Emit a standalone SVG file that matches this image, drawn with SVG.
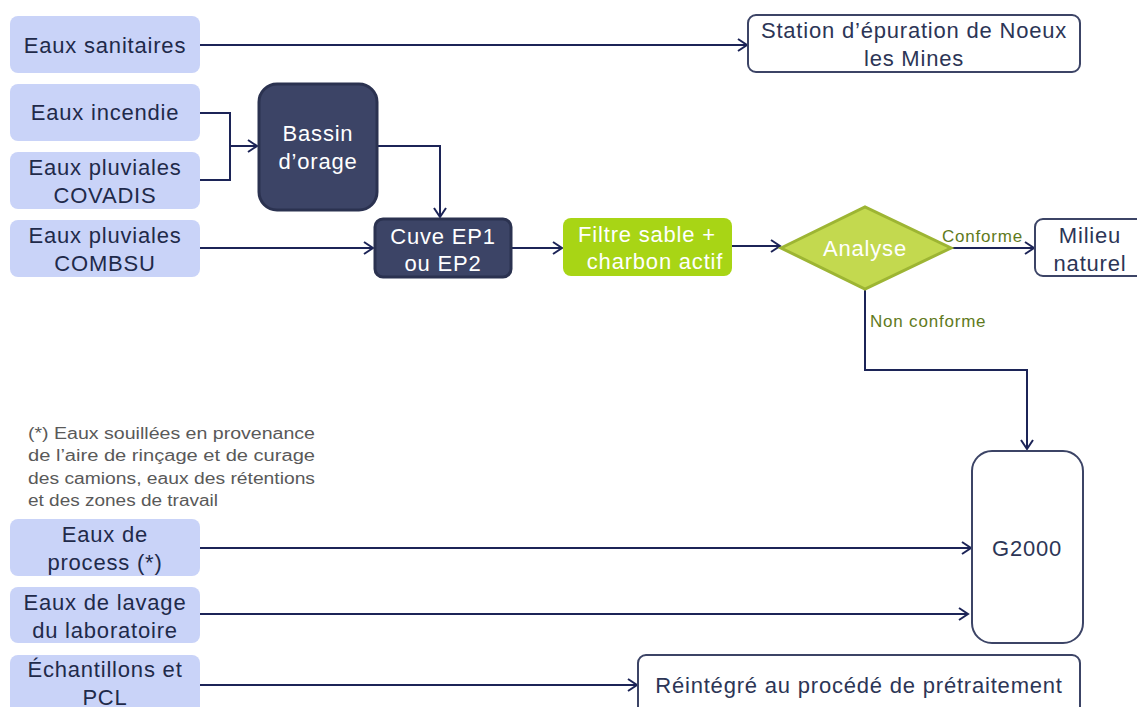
<svg xmlns="http://www.w3.org/2000/svg" width="1137" height="707" viewBox="0 0 1137 707">
<defs>
<marker id="arr" markerWidth="12" markerHeight="14" refX="10" refY="7" orient="auto" markerUnits="userSpaceOnUse">
<path d="M1,1 L10,7 L1,13" fill="none" stroke="#1c2457" stroke-width="2"/>
</marker>
<style>
text{font-family:"Liberation Sans",Arial,sans-serif;text-anchor:middle}
.t{font-size:22px;letter-spacing:0.8px}
.src rect{fill:#c9d3f8;stroke:none}
.src text{fill:#1f2a4a}
.dark rect{fill:#3c4466;stroke:#2b3250;stroke-width:3}
.dark text{fill:#fff}
.out rect{fill:#fff;stroke:#3c4466;stroke-width:2}
.out text{fill:#2c3556}
.lbl{font-size:17px;letter-spacing:0.8px;fill:#5f7a1c;text-anchor:start}
.note{font-size:16px;fill:#595959;text-anchor:start}
#connectors path{fill:none;stroke:#1c2457;stroke-width:2}
.a{marker-end:url(#arr)}
</style>
</defs>
<rect width="1137" height="707" fill="#fff"/>
<g id="connectors">
<path class="a" d="M200,45 H747"/>
<path d="M200,113 H230 V180 H200"/>
<path class="a" d="M230,146 H257"/>
<path class="a" d="M378,146 H440 V217"/>
<path class="a" d="M200,248 H373"/>
<path class="a" d="M512,248 H562"/>
<path class="a" d="M732,246 H780"/>
<path class="a" d="M951,248 H1034"/>
<path class="a" d="M865,289 V370 H1027 V449"/>
<path class="a" d="M200,548 H971"/>
<path class="a" d="M200,614 H968"/>
<path class="a" d="M200,685 H637"/>
</g>
<text class="lbl" x="942" y="242">Conforme</text>
<text class="lbl" x="870" y="327">Non conforme</text>
<g id="n-sanitaires" class="src t"><rect x="10" y="16" width="190" height="57" rx="8"/><text x="105" y="53">Eaux sanitaires</text></g>
<g id="n-incendie" class="src t"><rect x="10" y="84" width="190" height="57" rx="8"/><text x="105" y="120">Eaux incendie</text></g>
<g id="n-covadis" class="src t"><rect x="10" y="152" width="190" height="57" rx="8"/><text x="105" y="175">Eaux pluviales</text><text x="105" y="203">COVADIS</text></g>
<g id="n-combsu" class="src t"><rect x="10" y="220" width="190" height="57" rx="8"/><text x="105" y="243">Eaux pluviales</text><text x="105" y="271">COMBSU</text></g>
<g id="n-process" class="src t"><rect x="10" y="519" width="190" height="57" rx="8"/><text x="105" y="542">Eaux de</text><text x="105" y="570">process (*)</text></g>
<g id="n-lavage" class="src t"><rect x="10" y="587" width="190" height="56" rx="8"/><text x="105" y="610">Eaux de lavage</text><text x="105" y="638">du laboratoire</text></g>
<g id="n-echantillons" class="src t"><rect x="10" y="655" width="190" height="60" rx="8"/><text x="105" y="677">Échantillons et</text><text x="105" y="705">PCL</text></g>
<g id="n-bassin" class="dark t"><rect x="259" y="84" width="118" height="126" rx="18"/><text x="318" y="141">Bassin</text><text x="318" y="169">d’orage</text></g>
<g id="n-cuve" class="dark t"><rect x="375" y="219" width="136" height="58" rx="8"/><text x="443" y="244">Cuve EP1</text><text x="443" y="271">ou EP2</text></g>
<g id="n-filtre" class="t"><rect x="563" y="218" width="169" height="58" rx="8" fill="#a8d515"/><text x="647" y="242" fill="#fff">Filtre sable +</text><text x="655" y="269" fill="#fff">charbon actif</text></g>
<g id="n-analyse" class="t"><polygon points="781,248 865,207 951,248 865,289" fill="#c3d94f" stroke="#9db533" stroke-width="3"/><text x="865" y="256" fill="#fff">Analyse</text></g>
<g id="n-milieu" class="out t"><rect x="1035" y="219" width="110" height="57" rx="8"/><text x="1090" y="243">Milieu</text><text x="1090" y="271">naturel</text></g>
<g id="n-station" class="out t"><rect x="748" y="15" width="332" height="57" rx="8"/><text x="914" y="38">Station d’épuration de Noeux</text><text x="914" y="66">les Mines</text></g>
<g id="n-g2000" class="out t"><rect x="972" y="451" width="111" height="192" rx="20"/><text x="1027" y="556" fill="#1f2a4a">G2000</text></g>
<g id="n-reintegre" class="out t"><rect x="638" y="655" width="442" height="60" rx="8"/><text x="859" y="693" fill="#1f2a4a">Réintégré au procédé de prétraitement</text></g>
<g id="note">
<text class="note" x="28" y="439" textLength="287" lengthAdjust="spacingAndGlyphs">(*) Eaux souillées en provenance</text>
<text class="note" x="28" y="461" textLength="287" lengthAdjust="spacingAndGlyphs">de l’aire de rinçage et de curage</text>
<text class="note" x="28" y="484" textLength="287" lengthAdjust="spacingAndGlyphs">des camions, eaux des rétentions</text>
<text class="note" x="28" y="506" textLength="190" lengthAdjust="spacingAndGlyphs">et des zones de travail</text>
</g>
</svg>
